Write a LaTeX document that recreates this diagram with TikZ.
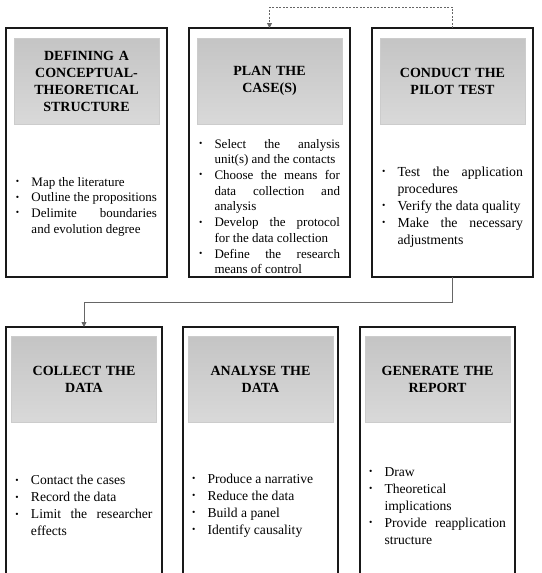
\documentclass[tikz,border=0pt]{standalone}
\usepackage{fontspec}
\setmainfont{Liberation Serif}
\usepackage{enumitem}
\usetikzlibrary{arrows.meta,positioning,calc}
\setlist[itemize]{label={\raisebox{1.6pt}{\fontsize{9.5}{9.5}\selectfont\textbullet}}, leftmargin=15.5pt, labelsep=0pt, labelwidth=15.5pt, align=left, nosep}
\tolerance=9999 \emergencystretch=2em \hyphenpenalty=10000

\begin{document}
\begin{tikzpicture}[x=1pt, y=-1pt]
    \tikzstyle{stage} = [rectangle, draw=black!90, line width=1.3pt, outer sep=0pt, inner sep=0pt, minimum width=161pt, minimum height=249pt]
    \tikzstyle{head} = [rectangle, draw=black!20, top color=black!23, bottom color=black!15, minimum width=145pt, minimum height=86pt, text width=138pt, align=center, font=\fontsize{14}{17}\selectfont\bfseries]
    \tikzstyle{items} = [text width=141pt, align=justify, inner sep=0pt, font=\fontsize{13}{15.7}\selectfont]
    \tikzstyle{arr} = [draw=black!60, line width=0.8pt, -{Triangle[length=5pt, width=5pt]}]

    \useasboundingbox (0,0) rectangle (541,573);

    % top row
    \node [stage, anchor=north west] (s1) at (6,28) {};
    \node [stage, right=22pt of s1] (s2) {};
    \node [stage, right=22pt of s2] (s3) {};

    \node [head, below=10pt of s1.north] (h1) {DEFINING A\\CONCEPTUAL-\\THEORETICAL\\STRUCTURE};
    \node [head, below=10pt of s2.north] (h2) {PLAN THE\\CASE(S)};
    \node [head, below=10pt of s3.north] (h3) {CONDUCT THE\\PILOT TEST};

    \node [items, yshift=-2.5pt] (t1) at ($(h1.south)!0.5!(s1.south)$) {\begin{itemize}
        \item Map the literature
        \item Outline the propositions
        \item Delimite boundaries \linebreak and evolution degree
    \end{itemize}};
    \node [items, yshift=-2.5pt] (t2) at ($(h2.south)!0.5!(s2.south)$) {\begin{itemize}
        \item Select the analysis \linebreak unit(s) and the contacts
        \item Choose the means for \linebreak data collection and \linebreak analysis
        \item Develop the protocol \linebreak for the data collection
        \item Define the research \linebreak means of control
    \end{itemize}};
    \node [items, yshift=-2.5pt, font=\fontsize{13.8}{17}\selectfont] (t3) at ($(h3.south)!0.5!(s3.south)$) {\begin{itemize}
        \item Test the application \linebreak procedures
        \item Verify the data quality
        \item Make the necessary \linebreak adjustments
    \end{itemize}};

    % bottom row
    \node [stage, anchor=north west, minimum width=156pt] (s4) at (6,327) {};
    \node [stage, minimum width=155pt, right=21pt of s4] (s5) {};
    \node [stage, minimum width=155pt, right=22pt of s5] (s6) {};

    \node [head, minimum width=140pt, below=9pt of s4.north] (h4) {COLLECT THE\\DATA};
    \node [head, minimum width=140pt, below=9pt of s5.north] (h5) {ANALYSE THE\\DATA};
    \node [head, minimum width=140pt, below=9pt of s6.north] (h6) {GENERATE THE\\REPORT};

    \node [items, text width=137pt, yshift=-2.5pt, font=\fontsize{13.6}{17}\selectfont] (t4) at ($(h4.south)!0.5!(s4.south)$) {\begin{itemize}
        \item Contact the cases
        \item Record the data
        \item Limit the researcher \linebreak effects
    \end{itemize}};
    \node [items, text width=137pt, yshift=-2.5pt, font=\fontsize{13.6}{17}\selectfont] (t5) at ($(h5.south)!0.5!(s5.south)$) {\begin{itemize}
        \item Produce a narrative
        \item Reduce the data
        \item Build a panel
        \item Identify causality
    \end{itemize}};
    \node [items, text width=137pt, yshift=-2.5pt, font=\fontsize{13.6}{17}\selectfont] (t6) at ($(h6.south)!0.5!(s6.south)$) {\begin{itemize}
        \item Draw
        \item Theoretical\newline implications
        \item Provide reapplication \linebreak structure
    \end{itemize}};

    \draw [arr, dash pattern=on 2pt off 1.5pt] (s3.north) -- ++(0,-21) -| (s2.north);
    \draw [arr] (s3.south) -- ++(0,25) -| (s4.north);
\end{tikzpicture}
\end{document}
